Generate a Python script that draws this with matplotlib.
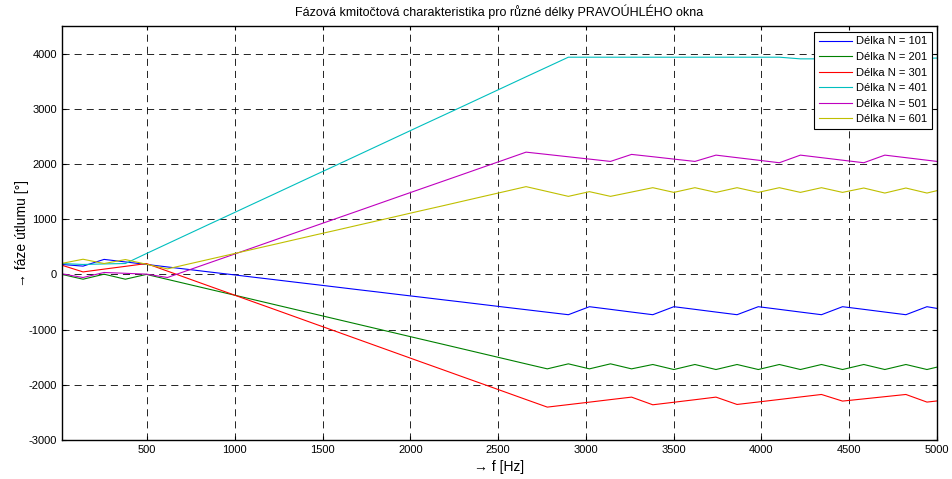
import numpy as np
import matplotlib
matplotlib.use("Agg")
import matplotlib.pyplot as plt

plt.rcParams['font.family'] = ['Liberation Sans', 'DejaVu Sans']
plt.rcParams['axes.unicode_minus'] = False

# frekvence [Hz]
f = [15, 135, 255, 376, 496, 616, 736, 856, 977, 1097,
     1217, 1337, 1457, 1578, 1698, 1818, 1938, 2058, 2179, 2299,
     2419, 2539, 2659, 2780, 2900, 3020, 3140, 3260, 3381, 3501,
     3621, 3741, 3861, 3982, 4102, 4222, 4342, 4462, 4583, 4703,
     4823, 4943, 5063]

faze_101 = [180, 150, 272, 226, 181, 135, 90, 44, -1, -47,
            -92, -138, -183, -229, -275, -320, -366, -411, -457, -502,
            -548, -594, -639, -685, -730, -585, -633, -682, -730, -585,
            -633, -682, -730, -585, -633, -682, -730, -585, -633, -682,
            -730, -585, -650]

faze_201 = [0, -87, 4, -87, 0, -90, -180, -270, -360, -450,
            -540, -630, -720, -811, -901, -991, -1081, -1171, -1261, -1351,
            -1441, -1531, -1621, -1711, -1620, -1711, -1620, -1711, -1632, -1723,
            -1632, -1723, -1632, -1723, -1632, -1723, -1632, -1723, -1632, -1723,
            -1632, -1723, -1632]

faze_301 = [166, 45, 96, 146, 197, 60, -77, -214, -351, -488,
            -624, -761, -898, -1035, -1172, -1309, -1446, -1583, -1720, -1857,
            -1993, -2130, -2267, -2404, -2359, -2314, -2268, -2223, -2362, -2316,
            -2270, -2223, -2356, -2311, -2266, -2220, -2175, -2295, -2255, -2215,
            -2175, -2313, -2270]

faze_401 = [197, 180, 190, 197, 378, 556, 734, 912, 1090, 1268,
            1445, 1623, 1801, 1979, 2157, 2335, 2513, 2691, 2869, 3046,
            3224, 3402, 3580, 3758, 3935, 3935, 3935, 3935, 3935, 3935,
            3935, 3935, 3935, 3935, 3935, 3905, 3905, 3905, 3905, 3905,
            3905, 3915, 3925]

faze_501 = [10, -56, 35, 20, 5, -56, 78, 211, 345, 478,
            612, 746, 879, 1013, 1146, 1280, 1414, 1547, 1681, 1814,
            1948, 2081, 2215, 2173, 2131, 2089, 2047, 2174, 2132, 2089,
            2047, 2161, 2115, 2069, 2023, 2161, 2115, 2069, 2023, 2161,
            2115, 2069, 2023]

faze_601 = [200, 275, 197, 269, 184, 100, 188, 275, 363, 451,
            538, 626, 714, 801, 889, 976, 1064, 1152, 1239, 1327,
            1415, 1502, 1590, 1502, 1414, 1499, 1414, 1492, 1571, 1486,
            1571, 1486, 1571, 1486, 1571, 1486, 1571, 1486, 1565, 1474,
            1565, 1474, 1565]

delky = [101, 201, 301, 401, 501, 601]
serie = [faze_101, faze_201, faze_301, faze_401, faze_501, faze_601]
barvy = [(0, 0, 1), (0, 0.5, 0), (1, 0, 0), (0, 0.75, 0.75), (0.75, 0, 0.75), (0.75, 0.75, 0)]

fig = plt.figure(figsize=(9.52, 4.79), dpi=100)
ax = fig.add_axes([0.0651, 0.0814, 0.9191, 0.8643])

for N, y, c in zip(delky, serie, barvy):
    ax.plot(f, y, color=c, lw=0.8, label="Délka N = %d" % N)

ax.set_xlim(15, 5000)
ax.set_ylim(-3000, 4500)
ax.set_xticks(np.arange(500, 5001, 500))
ax.set_yticks(np.arange(-3000, 4001, 1000))
ax.tick_params(direction='in', top=True, right=True, length=3, labelsize=8, width=0.8)
ax.grid(True, color='k', lw=0.6, linestyle=(0, (8.5, 6)))
for s in ax.spines.values():
    s.set_linewidth(1.0)

ax.set_title("Fázová kmitočtová charakteristika pro různé délky PRAVOÚHLÉHO okna", fontsize=9, pad=7)
ax.set_xlabel("→ f [Hz]", fontsize=10, labelpad=4)
ax.set_ylabel("→ fáze útlumu [°]", fontsize=10, labelpad=0)

leg = ax.legend(loc='upper right', bbox_to_anchor=(0.9943, 0.9855), borderaxespad=0,
                fontsize=8, fancybox=False, framealpha=1, edgecolor='k',
                handlelength=3.0, handletextpad=0.4, labelspacing=0.5, borderpad=0.4)
leg.get_frame().set_linewidth(0.8)

fig.savefig("out.png", dpi=100)
